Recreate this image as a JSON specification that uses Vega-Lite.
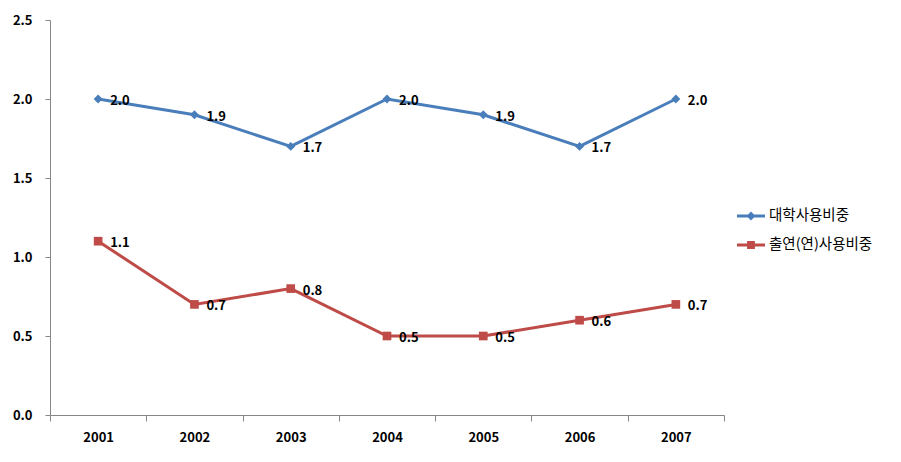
{
  "$schema": "https://vega.github.io/schema/vega-lite/v6.json",
  "autosize": "none",
  "width": 674,
  "height": 395,
  "padding": {"left": 50, "top": 20, "right": 177, "bottom": 47},
  "background": "white",
  "config": {
    "view": {"stroke": null},
    "font": "Noto Sans CJK KR",
    "axis": {"domainColor": "#868686", "tickColor": "#868686", "grid": false, "labelFont": "Noto Sans CJK KR", "labelFontWeight": "bold", "labelFontSize": 13, "labelColor": "#000000", "title": null}
  },
  "data": {
    "values": [
      {"year": "2001", "series": "대학사용비중", "value": 2.0},
      {"year": "2002", "series": "대학사용비중", "value": 1.9},
      {"year": "2003", "series": "대학사용비중", "value": 1.7},
      {"year": "2004", "series": "대학사용비중", "value": 2.0},
      {"year": "2005", "series": "대학사용비중", "value": 1.9},
      {"year": "2006", "series": "대학사용비중", "value": 1.7},
      {"year": "2007", "series": "대학사용비중", "value": 2.0},
      {"year": "2001", "series": "출연(연)사용비중", "value": 1.1},
      {"year": "2002", "series": "출연(연)사용비중", "value": 0.7},
      {"year": "2003", "series": "출연(연)사용비중", "value": 0.8},
      {"year": "2004", "series": "출연(연)사용비중", "value": 0.5},
      {"year": "2005", "series": "출연(연)사용비중", "value": 0.5},
      {"year": "2006", "series": "출연(연)사용비중", "value": 0.6},
      {"year": "2007", "series": "출연(연)사용비중", "value": 0.7}
    ]
  },
  "encoding": {
    "x": {"field": "year", "type": "ordinal", "bandPosition": 0.5,
      "scale": {"type": "band", "paddingInner": 0, "paddingOuter": 0},
      "axis": {"labelAngle": 0, "tickBand": "extent", "tickSize": 6, "labelPadding": 10}},
    "y": {"field": "value", "type": "quantitative",
      "scale": {"domain": [0, 2.5], "nice": false, "zero": true},
      "axis": {"values": [0, 0.5, 1.0, 1.5, 2.0, 2.5], "format": ".1f", "tickSize": 5, "labelPadding": 13}},
    "color": {"field": "series", "type": "nominal",
      "scale": {"domain": ["대학사용비중", "출연(연)사용비중"], "range": ["#4A7EBB", "#BE4B48"]},
      "legend": {
        "title": null, "orient": "none", "legendX": 687, "legendY": 182,
        "padding": 0, "rowPadding": 8, "labelFontSize": 14.5, "labelFont": "Noto Sans CJK KR", "labelColor": "#000000",
        "labelOffset": 4, "symbolSize": 784, "symbolStrokeWidth": 0,
        "encode": {"symbols": {"update": {
          "shape": {"signal": "datum.value === '대학사용비중' ? 'M-1,-0.1H1V0.1H-1Z M0,-0.32L0.32,0L0,0.32L-0.32,0Z' : 'M-1,-0.1H1V0.1H-1Z M-0.28,-0.28H0.28V0.28H-0.28Z'"},
          "size": {"value": 784},
          "fill": {"signal": "scale('color', datum.value)"},
          "stroke": {"value": "transparent"},
          "strokeWidth": {"value": 0}
        }}}
      }}
  },
  "layer": [
    {"mark": {"type": "line", "strokeWidth": 3}},
    {"transform": [{"filter": "datum.series === '대학사용비중'"}],
      "mark": {"type": "point", "filled": true, "opacity": 1, "shape": "diamond", "size": 80}},
    {"transform": [{"filter": "datum.series !== '대학사용비중'"}],
      "mark": {"type": "point", "filled": true, "opacity": 1, "shape": "square", "size": 75}},
    {"mark": {"type": "text", "align": "left", "baseline": "middle", "dx": 12, "dy": 2, "fontWeight": "bold", "fontSize": 13, "font": "Noto Sans CJK KR", "color": "#000000"},
      "encoding": {"text": {"field": "value", "type": "quantitative", "format": ".1f"}, "color": {"value": "#000000"}}}
  ]
}
